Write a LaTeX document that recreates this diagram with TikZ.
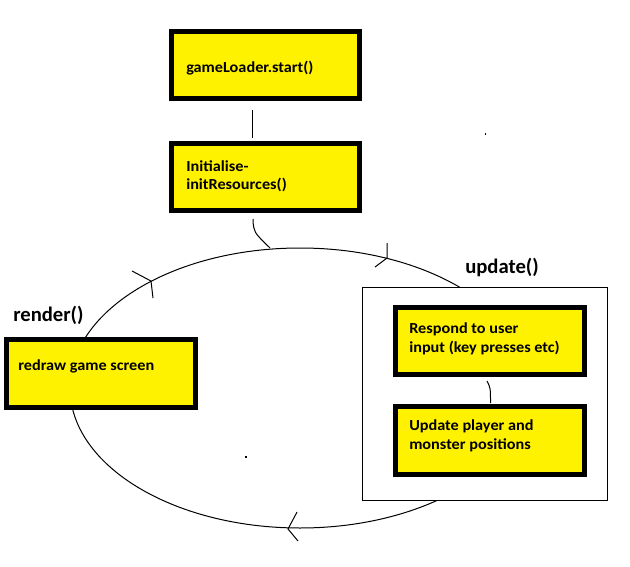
\documentclass[tikz,border=0pt]{standalone}
\usepackage{fontspec}
\setmainfont{Carlito}
\newfontfamily\boxfont[FakeStretch=1.06]{Carlito}
\definecolor{paintyellow}{RGB}{255,242,0}
\begin{document}
\begin{tikzpicture}[x=0.75pt,y=-0.75pt,
  ybox/.style={draw=black, line width=3.75pt, fill=paintyellow, inner sep=0pt,
    minimum width=141.5pt, minimum height=50.6pt},
  frame/.style={draw=black, line width=0.75pt, fill=white, inner sep=0pt,
    minimum width=184pt, minimum height=160pt},
  btext/.style={inner sep=0pt, anchor=base west, font=\boxfont\fontsize{11.5}{13}\selectfont\bfseries},
  ltext/.style={inner sep=0pt, anchor=base west, font=\fontsize{15.5}{18}\selectfont\bfseries},
  thin/.style={line width=0.75pt}]
\useasboundingbox (0,0) rectangle (630,566);
% loop
\draw[thin] (300,388) ellipse [x radius=230, y radius=140];
% update frame
\node[frame] (upd) at (485,394) {};
% boxes
\node[ybox] (start) at (265.5,65) {};
\node[ybox] (init) at (265.5,177) {};
\node[ybox] (render) at (101,373.5) {};
\node[ybox] (respond) at (490,341) {};
\node[ybox] (uplayer) at (490,440.5) {};
% texts
\node[btext] (tstart) at (186,73) {gameLoader.start()};
\node[btext] (tinita) at (186,171.5) {Initialise-};
\node[btext] (tinitb) at (186,190) {initResources()};
\node[btext] (trender) at (18,370) {redraw game screen};
\node[btext] (tresp1) at (409,333.5) {Respond to user};
\node[btext] (tresp2) at (409,352.5) {input (key presses etc)};
\node[btext] (tupl1) at (409,430) {Update player and};
\node[btext] (tupl2) at (409,449) {monster positions};
\node[ltext] (lrender) at (13,321) {render()};
\node[ltext] (lupdate) at (465,273) {update()};
% connectors
\coordinate (s1) at (252,110);
\coordinate (s2) at (252,138);
\draw[thin] (s1) -- (s2);
\coordinate (i1) at (253,219);
\coordinate (e1) at (270,248);
\draw[thin] (i1) .. controls (253.5,232) .. (e1);
\coordinate (r1) at (487,381);
\coordinate (r2) at (490.5,403);
\draw[thin] (r1) .. controls (490.5,388) .. (r2);
% arrow barbs on the loop
\draw[thin] (387,243) -- (387,258) -- (375,267);
\draw[thin] (132,271) -- (151,281) -- (153,298);
\draw[thin] (297,512) -- (288,529) -- (298,541);
% specks
\fill (484.5,133) rectangle (486,135.5);
\fill (244.5,456) rectangle (246.5,457.5);
\end{tikzpicture}
\end{document}
